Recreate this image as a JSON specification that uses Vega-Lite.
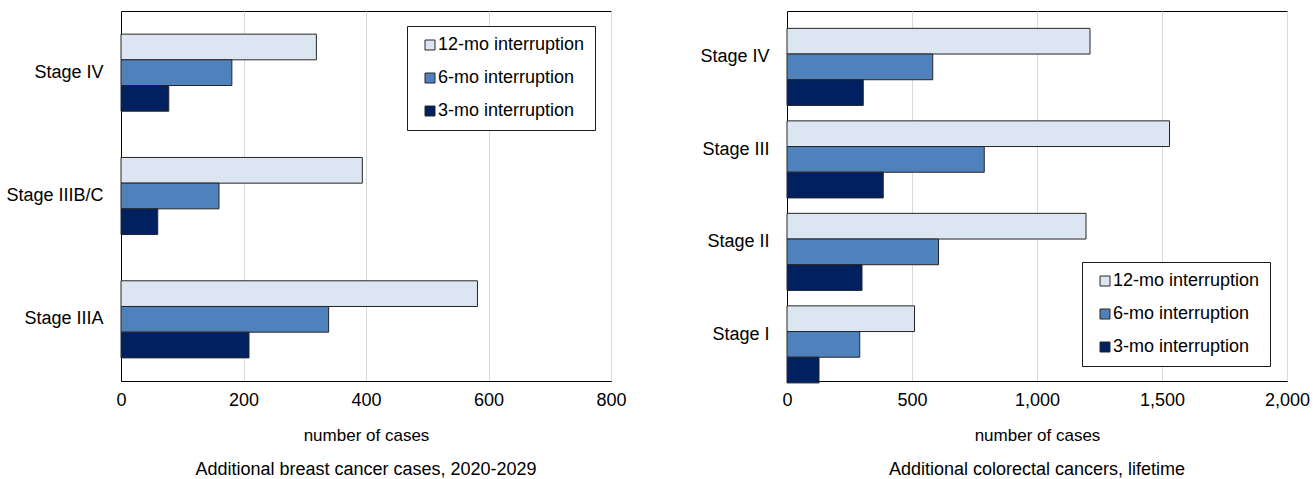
{
  "$schema": "https://vega.github.io/schema/vega-lite/v6.json",
  "padding": {"left": 0, "top": 10, "right": 0, "bottom": 0},
  "bounds": "flush",
  "spacing": 176,
  "config": {
    "font": "Liberation Sans",
    "view": {"stroke": "#000", "strokeWidth": 1},
    "axis": {
      "labelFont": "Liberation Sans",
      "titleFont": "Liberation Sans",
      "labelColor": "#000",
      "titleColor": "#000",
      "titleFontWeight": "normal",
      "labelFontSize": 18,
      "titleFontSize": 17,
      "domain": true,
      "domainColor": "#000",
      "domainWidth": 1,
      "ticks": false,
      "tickSize": 0,
      "labelFlush": false,
      "gridColor": "#d9d9d9",
      "gridWidth": 1
    },
    "legend": {
      "labelFont": "Liberation Sans",
      "labelFontSize": 18,
      "labelColor": "#000",
      "symbolType": "square",
      "symbolSize": 100,
      "symbolStrokeColor": "#262626",
      "symbolStrokeWidth": 1,
      "padding": 10,
      "rowPadding": 15,
      "strokeColor": "#1a1a1a",
      "fillColor": "#ffffff",
      "symbolOffset": 4,
      "labelOffset": -1,
      "labelLimit": 300
    },
    "title": {"font": "Liberation Sans", "fontSize": 18, "fontWeight": "normal", "color": "#000", "orient": "bottom", "offset": 18}
  },
  "resolve": {"scale": {"x": "independent", "y": "independent"}, "legend": {"color": "independent"}},
  "datasets": {
    "breast": [
      {"stage": "Stage IV", "period": "12-mo interruption", "cases": 319},
      {"stage": "Stage IV", "period": "6-mo interruption", "cases": 181},
      {"stage": "Stage IV", "period": "3-mo interruption", "cases": 78},
      {"stage": "Stage IIIB/C", "period": "12-mo interruption", "cases": 394},
      {"stage": "Stage IIIB/C", "period": "6-mo interruption", "cases": 160},
      {"stage": "Stage IIIB/C", "period": "3-mo interruption", "cases": 60},
      {"stage": "Stage IIIA", "period": "12-mo interruption", "cases": 582},
      {"stage": "Stage IIIA", "period": "6-mo interruption", "cases": 339},
      {"stage": "Stage IIIA", "period": "3-mo interruption", "cases": 209}
    ],
    "colorectal": [
      {"stage": "Stage IV", "period": "12-mo interruption", "cases": 1212},
      {"stage": "Stage IV", "period": "6-mo interruption", "cases": 583},
      {"stage": "Stage IV", "period": "3-mo interruption", "cases": 305},
      {"stage": "Stage III", "period": "12-mo interruption", "cases": 1530},
      {"stage": "Stage III", "period": "6-mo interruption", "cases": 789},
      {"stage": "Stage III", "period": "3-mo interruption", "cases": 385},
      {"stage": "Stage II", "period": "12-mo interruption", "cases": 1196},
      {"stage": "Stage II", "period": "6-mo interruption", "cases": 606},
      {"stage": "Stage II", "period": "3-mo interruption", "cases": 300},
      {"stage": "Stage I", "period": "12-mo interruption", "cases": 510},
      {"stage": "Stage I", "period": "6-mo interruption", "cases": 291},
      {"stage": "Stage I", "period": "3-mo interruption", "cases": 128}
    ]
  },
  "hconcat": [
    {
      "data": {"name": "breast"},
      "title": {"text": "Additional breast cancer cases, 2020-2029"},
      "width": 490,
      "height": 370,
      "mark": {"type": "bar", "stroke": "#262626", "strokeWidth": 1},
      "encoding": {
        "y": {
          "field": "stage", "type": "nominal",
          "sort": ["Stage IV", "Stage IIIB/C", "Stage IIIA"],
          "scale": {"paddingInner": 0.375, "paddingOuter": 0.1875},
          "axis": {"title": null, "grid": false, "labelPadding": 18, "minExtent": 120, "maxExtent": 120}
        },
        "x": {
          "field": "cases", "type": "quantitative",
          "scale": {"domain": [0, 800]},
          "axis": {"values": [0, 200, 400, 600, 800], "title": "number of cases", "labelPadding": 10, "titlePadding": 18, "grid": true}
        },
        "yOffset": {
          "field": "period", "type": "nominal",
          "sort": ["12-mo interruption", "6-mo interruption", "3-mo interruption"],
          "scale": {"paddingInner": 0, "paddingOuter": 0}
        },
        "color": {
          "field": "period", "type": "nominal",
          "scale": {"domain": ["12-mo interruption", "6-mo interruption", "3-mo interruption"], "range": ["#dce6f2", "#4f81bd", "#002060"]},
          "legend": {"orient": "none", "legendX": 286, "legendY": 15, "title": null}
        }
      }
    },
    {
      "data": {"name": "colorectal"},
      "title": {"text": "Additional colorectal cancers, lifetime"},
      "width": 500,
      "height": 370,
      "mark": {"type": "bar", "stroke": "#262626", "strokeWidth": 1},
      "encoding": {
        "y": {
          "field": "stage", "type": "nominal",
          "sort": ["Stage IV", "Stage III", "Stage II", "Stage I"],
          "scale": {"paddingInner": 0.375, "paddingOuter": 0.1875},
          "axis": {"title": null, "grid": false, "labelPadding": 18}
        },
        "x": {
          "field": "cases", "type": "quantitative",
          "scale": {"domain": [0, 2000]},
          "axis": {"values": [0, 500, 1000, 1500, 2000], "format": ",.0f", "title": "number of cases", "labelPadding": 10, "titlePadding": 18, "grid": true}
        },
        "yOffset": {
          "field": "period", "type": "nominal",
          "sort": ["12-mo interruption", "6-mo interruption", "3-mo interruption"],
          "scale": {"paddingInner": 0, "paddingOuter": 0}
        },
        "color": {
          "field": "period", "type": "nominal",
          "scale": {"domain": ["12-mo interruption", "6-mo interruption", "3-mo interruption"], "range": ["#dce6f2", "#4f81bd", "#002060"]},
          "legend": {"orient": "none", "legendX": 295, "legendY": 251, "title": null}
        }
      }
    }
  ]
}
